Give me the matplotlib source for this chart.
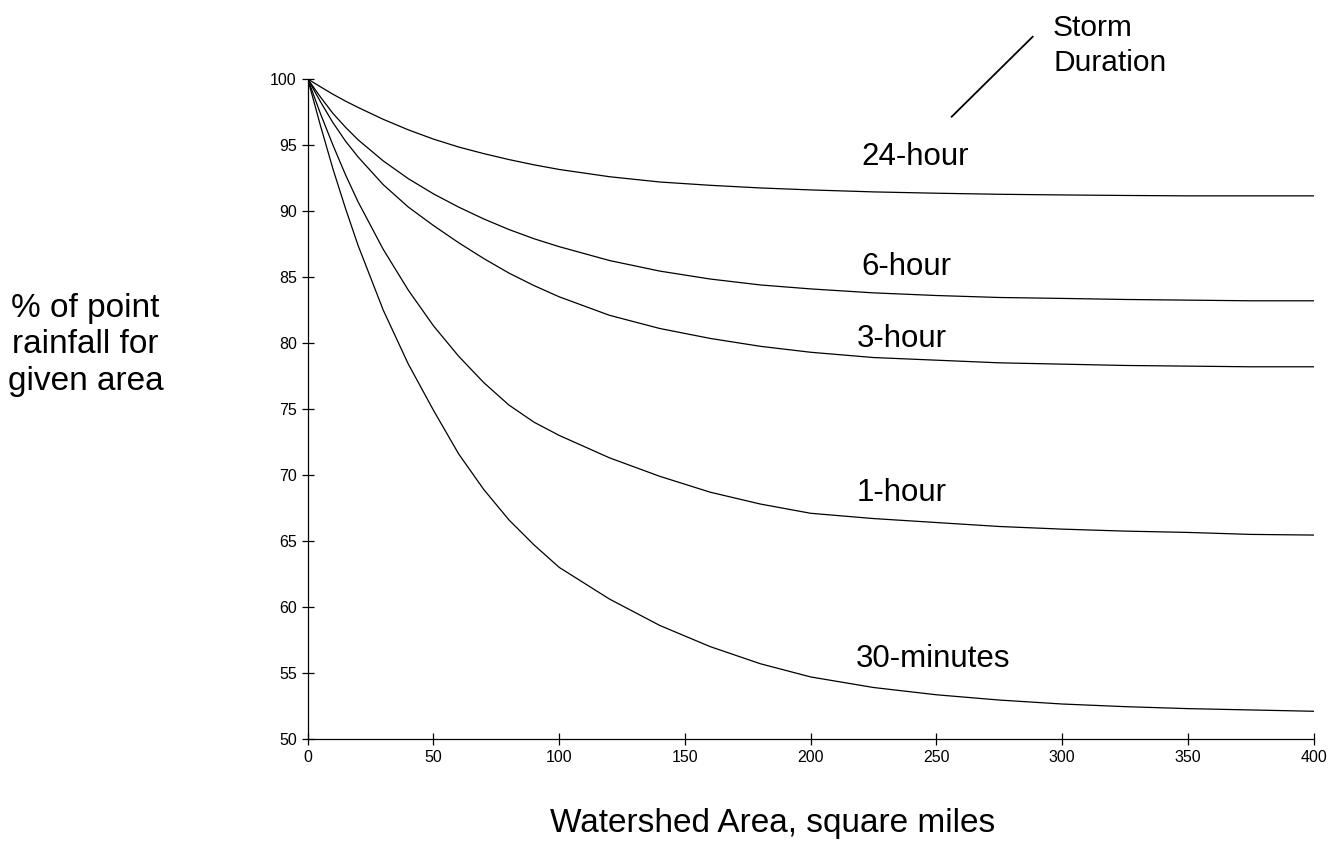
import numpy as np
import matplotlib.pyplot as plt
from matplotlib.lines import Line2D

plt.rcParams['font.family'] = ['Liberation Sans', 'DejaVu Sans']

# watershed area, square miles
area = [0, 5, 10, 15, 20, 30, 40, 50, 60, 70, 80, 90, 100, 120, 140, 160, 180,
        200, 225, 250, 275, 300, 325, 350, 375, 400]

# % of point rainfall, one list per storm duration
hr24 = [100, 99.42, 98.85, 98.33, 97.85, 96.95, 96.15, 95.45, 94.85, 94.35, 93.9, 93.5, 93.15,
        92.6, 92.2, 91.95, 91.75, 91.6, 91.45, 91.35, 91.27, 91.22, 91.18, 91.15, 91.15, 91.15]
hr6 = [100, 98.65, 97.4, 96.35, 95.4, 93.8, 92.45, 91.3, 90.3, 89.4, 88.6, 87.9, 87.3,
       86.25, 85.45, 84.85, 84.4, 84.1, 83.8, 83.6, 83.45, 83.38, 83.3, 83.25, 83.2, 83.2]
hr3 = [100, 98.3, 96.7, 95.3, 94.1, 92.0, 90.3, 88.9, 87.6, 86.4, 85.3, 84.35, 83.5,
       82.1, 81.1, 80.35, 79.75, 79.3, 78.9, 78.7, 78.5, 78.4, 78.3, 78.25, 78.2, 78.2]
hr1 = [100, 97.4, 95.0, 92.75, 90.7, 87.1, 84.0, 81.3, 79.0, 77.0, 75.3, 74.0, 73.0,
       71.3, 69.9, 68.7, 67.8, 67.1, 66.7, 66.4, 66.1, 65.9, 65.75, 65.65, 65.5, 65.45]
min30 = [100, 96.5, 93.2, 90.2, 87.4, 82.5, 78.4, 74.9, 71.6, 68.9, 66.6, 64.7, 63.0,
         60.6, 58.6, 57.0, 55.7, 54.7, 53.9, 53.35, 52.95, 52.65, 52.45, 52.3, 52.2, 52.1]

curves = [hr24, hr6, hr3, hr1, min30]
names = ['24-hour', '6-hour', '3-hour', '1-hour', '30-minutes']
# label anchor (area, %) for each curve name
label_x = [220, 220, 218.5, 218.3, 218]
label_y = [93.48, 85.15, 79.7, 68.03, 55.45]

fig = plt.figure(figsize=(13.3, 8.41), dpi=100)
ax = fig.add_axes([0.2314, 0.1213, 0.7563, 0.7847])

for ys in curves:
    ax.plot(area, ys, color='black', lw=0.9)

for n, lx, ly in zip(names, label_x, label_y):
    ax.text(lx, ly, n, fontsize=22.5, ha='left', va='baseline')

ax.set_xlim(0, 400)
ax.set_ylim(50, 100)
ax.set_xticks(np.arange(0, 401, 50))
ax.set_yticks(np.arange(50, 101, 5))
ax.tick_params(direction='inout', length=8, width=0.9, labelsize=11.5, pad=4)
ax.spines['top'].set_visible(False)
ax.spines['right'].set_visible(False)
for s in ['left', 'bottom']:
    ax.spines[s].set_linewidth(0.9)

# y label, three lines centred
for txt, base in zip(['% of point', 'rainfall for', 'given area'], [316.7, 353.3, 390]):
    fig.text(85.5 / 1330, 1 - base / 841, txt, fontsize=24, ha='center', va='baseline')

fig.text(773 / 1330, 1 - 832 / 841, 'Watershed Area, square miles',
         fontsize=24, ha='center', va='baseline')

# storm duration note with pointer line
fig.text(1053 / 1330, 1 - 36 / 841, 'Storm', fontsize=21.5, ha='left', va='baseline')
fig.text(1053 / 1330, 1 - 70.7 / 841, 'Duration', fontsize=21.5, ha='left', va='baseline')
fig.add_artist(Line2D([951.7 / 1330, 1032.7 / 1330], [1 - 116.7 / 841, 1 - 36.7 / 841],
                      transform=fig.transFigure, color='black', lw=1.3))

plt.savefig('out.png', dpi=100)
